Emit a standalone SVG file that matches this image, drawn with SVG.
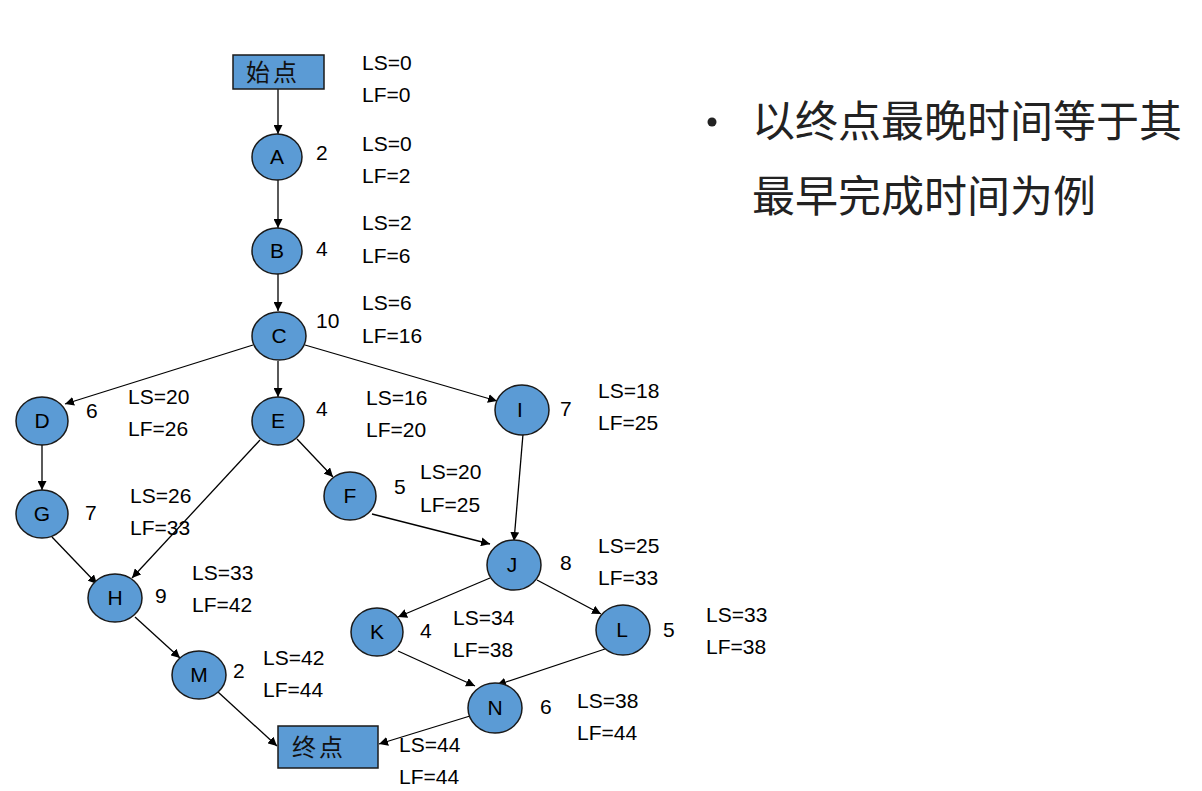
<svg xmlns="http://www.w3.org/2000/svg" width="1202" height="791" viewBox="0 0 1202 791">
<defs>
<marker id="ah" viewBox="0 0 10 10" refX="10" refY="5" markerWidth="9" markerHeight="9" markerUnits="userSpaceOnUse" orient="auto">
<path d="M0,0 L10,5 L0,10 z" fill="#000"/>
</marker>
<style>
.n{fill:#5B9BD5;stroke:#1a1a1a;stroke-width:1.5}
.b{fill:#5B9BD5;stroke:#1a1a1a;stroke-width:1.5}
.l{font-family:"Liberation Sans","Noto Sans",Arial,sans-serif;font-size:21px;fill:#000}
.c{text-anchor:middle}
.cj{font-family:"Noto Sans CJK SC","Noto Sans",sans-serif;font-size:24px;fill:#111;letter-spacing:3px}
.big{font-family:"Noto Sans CJK SC",sans-serif;font-size:43px;fill:#222}
.e{stroke:#000;stroke-width:1.3;fill:none;marker-end:url(#ah)}
</style>
</defs>
<rect width="1202" height="791" fill="#fff"/>
<g id="connectors">
<line class="e" x1="278" y1="89" x2="278" y2="134"/>
<line class="e" x1="278" y1="180" x2="278" y2="228"/>
<line class="e" x1="278" y1="274" x2="278" y2="311"/>
<line class="e" x1="253" y1="345" x2="65" y2="404"/>
<line class="e" x1="278" y1="361" x2="278" y2="397"/>
<line class="e" x1="305" y1="345" x2="497" y2="401"/>
<line class="e" x1="42" y1="444" x2="42" y2="490"/>
<line class="e" x1="260" y1="440" x2="132" y2="578"/>
<line class="e" x1="297" y1="439" x2="333" y2="477"/>
<line class="e" x1="523" y1="434" x2="514" y2="541"/>
<line class="e" x1="372" y1="514" x2="490" y2="544"/>
<line class="e" x1="52" y1="537" x2="97" y2="584"/>
<line class="e" x1="135" y1="617" x2="180" y2="658"/>
<line class="e" x1="490" y1="578" x2="398" y2="617"/>
<line class="e" x1="537" y1="580" x2="601" y2="614"/>
<line class="e" x1="398" y1="651" x2="475" y2="686"/>
<line class="e" x1="605" y1="649" x2="497" y2="685"/>
<line class="e" x1="218" y1="692" x2="277" y2="746"/>
<line class="e" x1="470" y1="716" x2="379" y2="744"/>
</g>
<g id="start"><rect class="b" x="233" y="55" width="91" height="34"/><text class="cj c" x="273" y="81">始点</text><text class="l" x="362" y="70">LS=0</text><text class="l" x="362" y="102">LF=0</text></g>
<g id="A"><ellipse class="n" cx="277" cy="157" rx="25" ry="23"/><text class="l c" x="277" y="164">A</text><text class="l" x="316" y="160">2</text><text class="l" x="362" y="151">LS=0</text><text class="l" x="362" y="183">LF=2</text></g>
<g id="B"><ellipse class="n" cx="277" cy="251" rx="25" ry="23"/><text class="l c" x="277" y="258">B</text><text class="l" x="316" y="256">4</text><text class="l" x="362" y="230">LS=2</text><text class="l" x="362" y="263">LF=6</text></g>
<g id="C"><ellipse class="n" cx="279" cy="336" rx="27" ry="24"/><text class="l c" x="279" y="343">C</text><text class="l" x="316" y="328">10</text><text class="l" x="362" y="310">LS=6</text><text class="l" x="362" y="343">LF=16</text></g>
<g id="D"><ellipse class="n" cx="42" cy="421" rx="26" ry="24"/><text class="l c" x="42" y="428">D</text><text class="l" x="86" y="418">6</text><text class="l" x="128" y="404">LS=20</text><text class="l" x="128" y="436">LF=26</text></g>
<g id="E"><ellipse class="n" cx="278" cy="421" rx="26" ry="24"/><text class="l c" x="278" y="428">E</text><text class="l" x="316" y="416">4</text><text class="l" x="366" y="405">LS=16</text><text class="l" x="366" y="437">LF=20</text></g>
<g id="I"><ellipse class="n" cx="522" cy="410" rx="27" ry="25"/><text class="l c" x="520" y="417">I</text><text class="l" x="560" y="416">7</text><text class="l" x="598" y="398">LS=18</text><text class="l" x="598" y="430">LF=25</text></g>
<g id="F"><ellipse class="n" cx="350" cy="496" rx="26" ry="24"/><text class="l c" x="350" y="503">F</text><text class="l" x="394" y="494">5</text><text class="l" x="420" y="479">LS=20</text><text class="l" x="420" y="512">LF=25</text></g>
<g id="G"><ellipse class="n" cx="42" cy="514" rx="26" ry="24"/><text class="l c" x="42" y="521">G</text><text class="l" x="85" y="520">7</text><text class="l" x="130" y="503">LS=26</text><text class="l" x="130" y="535">LF=33</text></g>
<g id="J"><ellipse class="n" cx="514" cy="565" rx="27" ry="25"/><text class="l c" x="512" y="572">J</text><text class="l" x="560" y="570">8</text><text class="l" x="598" y="553">LS=25</text><text class="l" x="598" y="585">LF=33</text></g>
<g id="H"><ellipse class="n" cx="115" cy="598" rx="27" ry="24"/><text class="l c" x="115" y="605">H</text><text class="l" x="155" y="603">9</text><text class="l" x="192" y="580">LS=33</text><text class="l" x="192" y="612">LF=42</text></g>
<g id="K"><ellipse class="n" cx="377" cy="632" rx="26" ry="24"/><text class="l c" x="377" y="639">K</text><text class="l" x="420" y="638">4</text><text class="l" x="453" y="625">LS=34</text><text class="l" x="453" y="657">LF=38</text></g>
<g id="L"><ellipse class="n" cx="623" cy="630" rx="27" ry="25"/><text class="l c" x="622" y="637">L</text><text class="l" x="663" y="637">5</text><text class="l" x="706" y="622">LS=33</text><text class="l" x="706" y="654">LF=38</text></g>
<g id="M"><ellipse class="n" cx="199" cy="675" rx="27" ry="24"/><text class="l c" x="199" y="682">M</text><text class="l" x="233" y="678">2</text><text class="l" x="263" y="665">LS=42</text><text class="l" x="263" y="697">LF=44</text></g>
<g id="N"><ellipse class="n" cx="495" cy="708" rx="27" ry="25"/><text class="l c" x="495" y="715">N</text><text class="l" x="540" y="714">6</text><text class="l" x="577" y="708">LS=38</text><text class="l" x="577" y="740">LF=44</text></g>
<g id="end"><rect class="b" x="278" y="726" width="100" height="42"/><text class="cj c" x="319" y="756">终点</text><text class="l" x="399" y="752">LS=44</text><text class="l" x="399" y="784">LF=44</text></g>
<g id="bullet"><circle cx="712" cy="122" r="4.5" fill="#222"/><text class="big" x="752" y="137">以终点最晚时间等于其</text><text class="big" x="752" y="212">最早完成时间为例</text></g>
</svg>
